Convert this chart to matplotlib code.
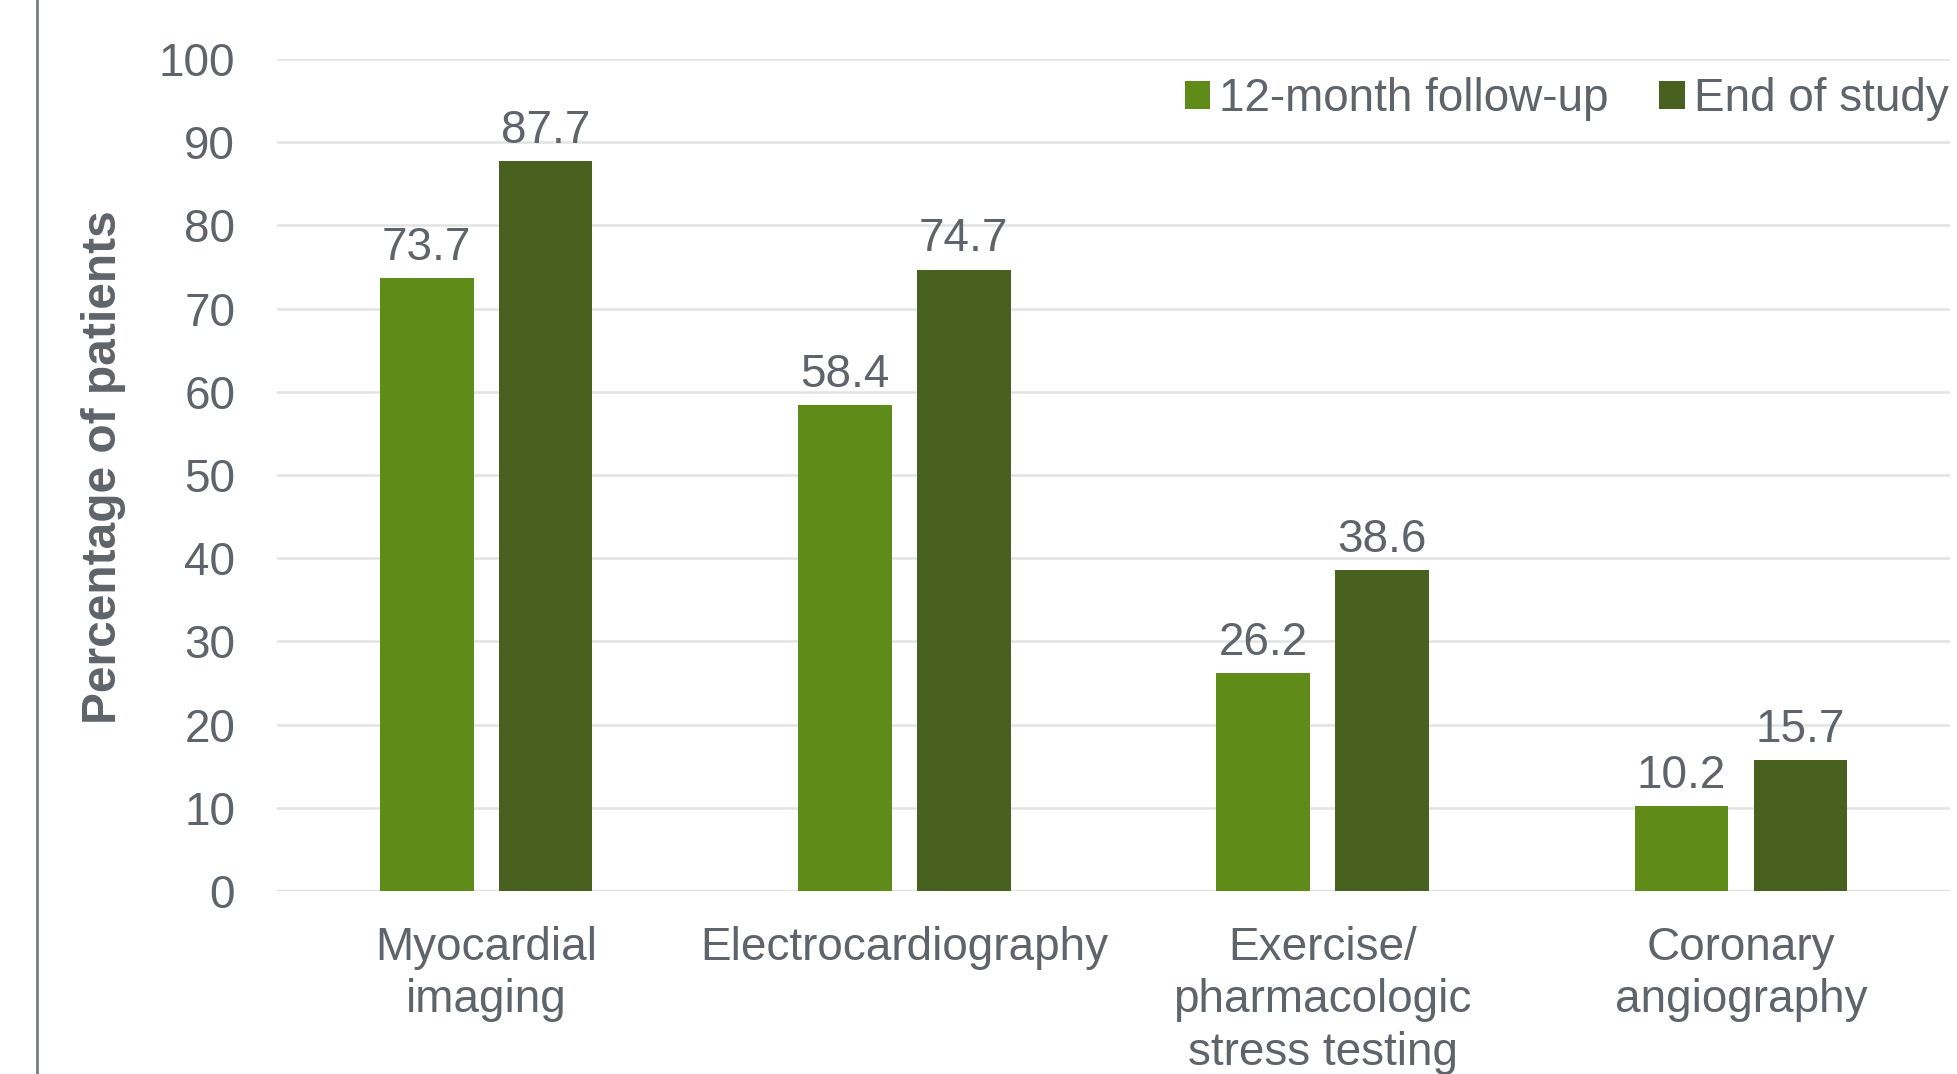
import matplotlib.pyplot as plt
import numpy as np
from matplotlib.lines import Line2D

plt.rcParams['font.family'] = ['Liberation Sans', 'DejaVu Sans']

# data
categories = ['Myocardial\nimaging', 'Electrocardiography',
              'Exercise/\npharmacologic\nstress testing', 'Coronary\nangiography']
month12 = [73.7, 58.4, 26.2, 10.2]
end_study = [87.7, 74.7, 38.6, 15.7]
series_names = ['12-month follow-up', 'End of study']

light = '#5f8b18'
dark = '#49611e'
text_col = '#5f636a'

fig = plt.figure(figsize=(19.57, 10.74), dpi=100)
ax = fig.add_axes([0.1415, 0.1704, 0.855, 0.7746])

x = np.arange(len(categories))
w = 0.224
off = 0.142
b1 = ax.bar(x - off, month12, w, color=light, label=series_names[0], zorder=3)
b2 = ax.bar(x + off, end_study, w, color=dark, label=series_names[1], zorder=3)

for bars in (b1, b2):
    ax.bar_label(bars, labels=[f'{v:.1f}' for v in bars.datavalues],
                 padding=6, fontsize=33, color=text_col)

ax.set_xlim(-0.5, 3.5)
ax.set_ylim(0, 100)
ax.set_yticks(range(0, 101, 10))
ax.yaxis.grid(True, color='#e3e3e3', linewidth=1.8, zorder=0)
ax.set_axisbelow(True)
for s in ax.spines.values():
    s.set_visible(False)
ax.axhline(0, color='#e3e3e3', linewidth=2.5, zorder=1)

ax.set_xticks(x)
ax.set_xticklabels(categories, linespacing=1.25)
ax.tick_params(axis='both', length=0, labelsize=33, labelcolor=text_col)
ax.tick_params(axis='y', pad=30)
ax.tick_params(axis='x', pad=25)

ax.set_ylabel('Percentage of patients', fontsize=34.5, fontweight='bold', color=text_col)
ax.yaxis.set_label_coords(-0.09, 0.51)

leg = ax.legend(loc='upper right', bbox_to_anchor=(1.01, 1.0), ncol=2, frameon=False,
                fontsize=33, handlelength=0.55, handleheight=0.55, handletextpad=0.2,
                columnspacing=1.1, borderaxespad=0)
for t in leg.get_texts():
    t.set_color(text_col)

# thin vertical rule at far left
fig.add_artist(Line2D([37 / 1957, 37 / 1957], [0, 1], color='#7a7d82', linewidth=2,
                      transform=fig.transFigure))

fig.savefig('out.png', dpi=100)
